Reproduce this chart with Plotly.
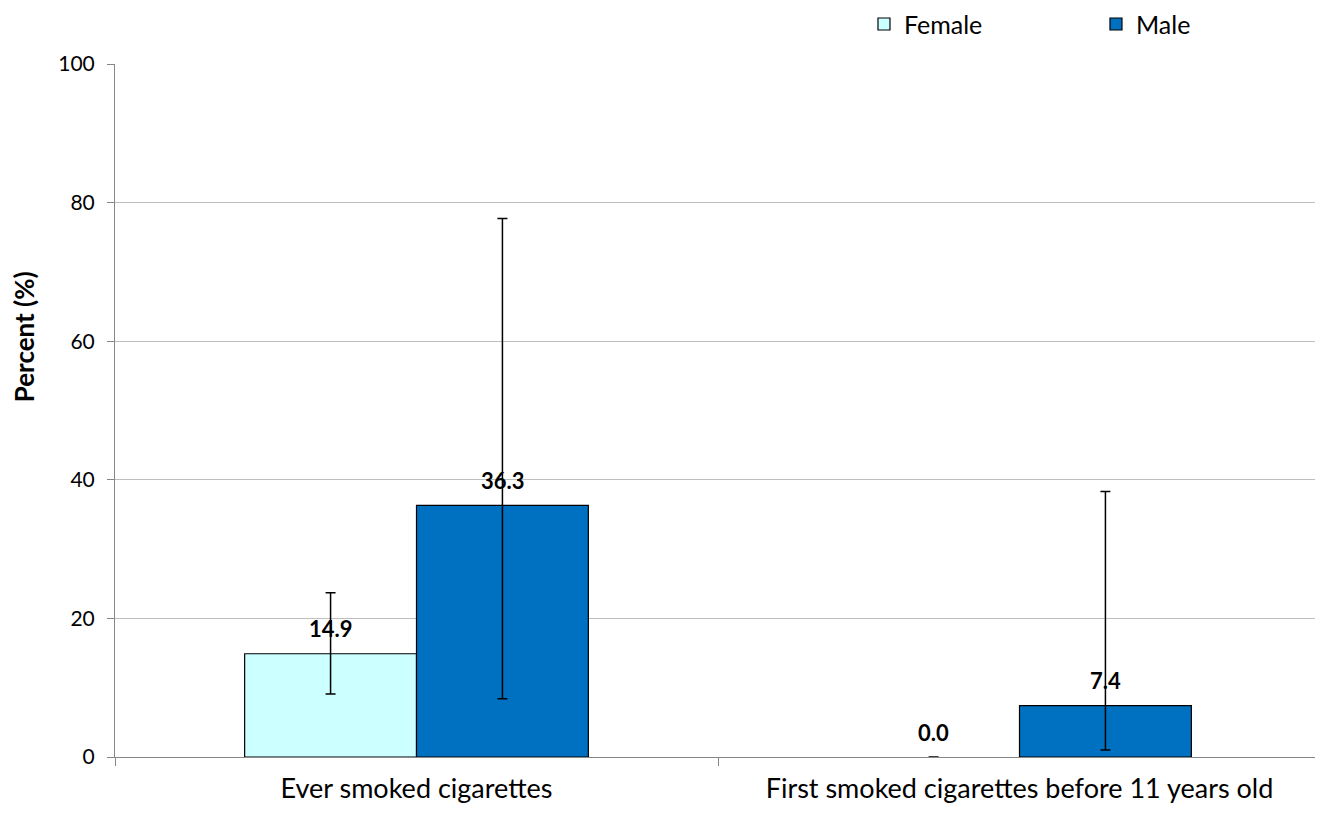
import plotly.graph_objects as go

categories = ["Ever smoked cigarettes", "First smoked cigarettes before 11 years old"]
female_vals = [14.9, 0.0]
female_lo = [9.1, 0.0]
female_hi = [23.7, 0.0]
male_vals = [36.3, 7.4]
male_lo = [8.4, 1.0]
male_hi = [77.7, 38.3]
y_ticks = [0, 20, 40, 60, 80, 100]

FONT = "Lato"

fig = go.Figure()
series = [
    ("Female", female_vals, female_lo, female_hi, "#CCFFFF"),
    ("Male", male_vals, male_lo, male_hi, "#0070C0"),
]
for name, vals, lo, hi, col in series:
    fig.add_trace(go.Bar(
        name=name, x=categories, y=vals,
        marker=dict(color=col,
                    line=dict(color="#000000", width=[1.2 if v > 0 else 0 for v in vals])),
        error_y=dict(type="data", symmetric=False,
                     array=[h - v for h, v in zip(hi, vals)],
                     arrayminus=[v - l for v, l in zip(vals, lo)],
                     color="#000000", thickness=1.5, width=5),
    ))

# data labels
for si, (name, vals, lo, hi, col) in enumerate(series):
    for c, v in zip(categories, vals):
        fig.add_annotation(x=c, y=v, text=f"<b>{v:.1f}</b>", showarrow=False,
                           xshift=(-86 if si == 0 else 86), yshift=25,
                           font=dict(family=FONT, size=22, color="#000000"))

# y-axis title (placed like the original, above the vertical centre)
fig.add_annotation(xref="paper", yref="paper", x=-0.0755, y=0.607,
                   text="<b>Percent (%)</b>", textangle=-90, showarrow=False,
                   xanchor="center", yanchor="middle", borderpad=0,
                   font=dict(family=FONT, size=26, color="#000000"))

fig.update_layout(
    width=1323, height=813,
    paper_bgcolor="white", plot_bgcolor="white",
    margin=dict(l=107, r=10, t=56, b=64),
    barmode="group", bargap=0.43, bargroupgap=0,
    font=dict(family=FONT, size=21, color="#000000"),
    showlegend=True,
    legend=dict(orientation="h", xref="container", yref="container",
                x=0.647, y=0.980, xanchor="left", yanchor="middle",
                font=dict(family=FONT, size=25, color="#000000"),
                entrywidth=187, entrywidthmode="pixels", itemwidth=30,
                bgcolor="rgba(0,0,0,0)"),
    yaxis=dict(range=[0, 100], tickvals=y_ticks, showgrid=True, gridcolor="#BFBFBF",
               gridwidth=1, showline=True, linecolor="#868686", linewidth=1,
               ticks="outside", ticklen=7, tickcolor="#868686",
               ticklabelstandoff=8,
               tickfont=dict(family=FONT, size=21),
               zeroline=False, automargin=False),
    xaxis=dict(showline=True, linecolor="#868686", linewidth=1,
               ticks="outside", ticklen=8, tickcolor="#868686",
               tickson="boundaries", automargin=False, ticklabelstandoff=8,
               tickfont=dict(family=FONT, size=27)),
)

fig.write_html("out.html")
